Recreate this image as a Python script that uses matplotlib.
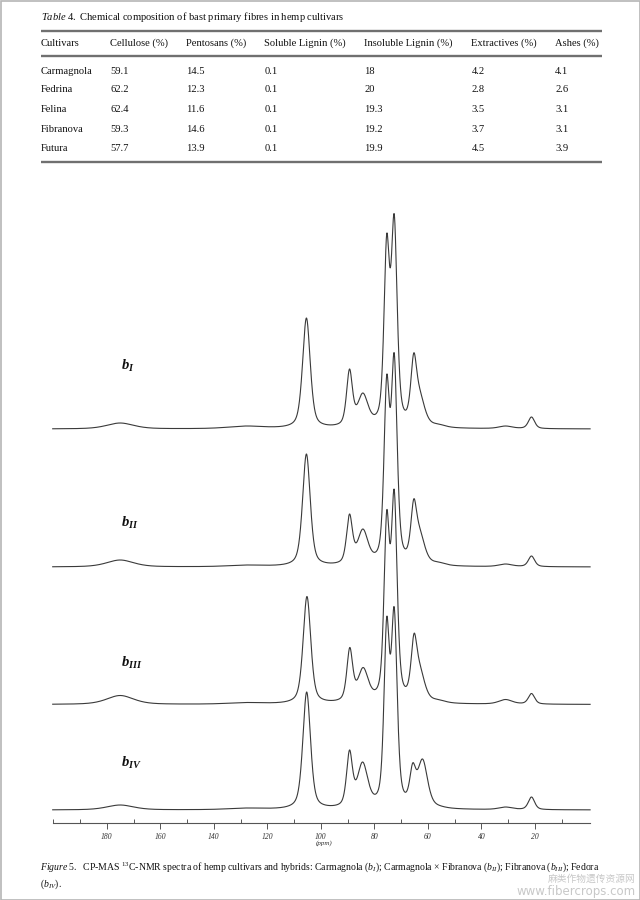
import numpy as np
import matplotlib
matplotlib.use("Agg")
import matplotlib.pyplot as plt
from matplotlib.patches import Rectangle

plt.rcParams["font.family"] = ["Liberation Serif", "DejaVu Serif"]
plt.rcParams["mathtext.fontset"] = "custom"
plt.rcParams["mathtext.rm"] = "Liberation Serif"
plt.rcParams["mathtext.it"] = "Liberation Serif:italic"
plt.rcParams["mathtext.bf"] = "Liberation Serif:bold"
plt.rcParams["mathtext.bfit"] = "Liberation Serif:italic:bold"

# ---- Table 4 data ----
headers = ["Cultivars", "Cellulose (%)", "Pentosans (%)", "Soluble Lignin (%)",
           "Insoluble Lignin (%)", "Extractives (%)", "Ashes (%)"]
cultivars = ["Carmagnola", "Fedrina", "Felina", "Fibranova", "Futura"]
cellulose = [59.1, 62.2, 62.4, 59.3, 57.7]
pentosans = [14.5, 12.3, 11.6, 14.6, 13.9]
soluble_lignin = [0.1, 0.1, 0.1, 0.1, 0.1]
insoluble_lignin = [18, 20, 19.3, 19.2, 19.9]
extractives = [4.2, 2.8, 3.5, 3.7, 4.5]
ashes = [4.1, 2.6, 3.1, 3.1, 3.9]

# ---- CP-MAS 13C-NMR resonances (ppm, intensity a.u.) ----
spectrum_labels = ["I", "II", "III", "IV"]
ppm_b1 = [175, 128, 105.4, 89.3, 84.3, 75.4, 72.6, 65.3, 63.0, 56.0, 31.0, 21.3]
int_b1 = [6, 3, 111, 60, 36, 195, 215, 76, 40, 5, 3, 12]
ppm_b2 = [175, 128, 105.4, 89.3, 84.3, 75.4, 72.6, 65.3, 63.0, 56.0, 31.0, 21.3]
int_b2 = [7, 2, 113, 53, 38, 192, 214, 68, 39, 5, 3, 11]
ppm_b3 = [175, 128, 105.2, 89.2, 84.2, 75.4, 72.6, 65.2, 63.0, 56.0, 31.0, 21.3]
int_b3 = [9, 2, 108, 57, 37, 194, 215, 71, 41, 5, 5, 11]
ppm_b4 = [175, 128, 105.3, 89.3, 84.4, 75.4, 72.6, 65.7, 62.0, 56.0, 31.0, 21.3]
int_b4 = [5, 2, 118, 60, 48, 193, 203, 47, 51, 5, 3, 13]
# half widths at half maximum (ppm) for each resonance
hwhm = [6.0, 8.0, 1.7, 1.3, 2.3, 1.2, 1.3, 1.3, 2.2, 3.0, 3.0, 1.4]

spectra_ppm = [ppm_b1, ppm_b2, ppm_b3, ppm_b4]
spectra_int = [int_b1, int_b2, int_b3, int_b4]

ETA = 0.5  # Lorentzian fraction of the pseudo-Voigt line shape


def line_shape(x, x0, w):
    lor = 1.0 / (1.0 + ((x - x0) / w) ** 2)
    gau = np.exp(-np.log(2) * ((x - x0) / w) ** 2)
    return ETA * lor + (1 - ETA) * gau


def build_spectrum(x, centres, heights, widths):
    centres = np.asarray(centres, float)
    heights = np.asarray(heights, float)
    widths = np.asarray(widths, float)
    # amplitudes so that the summed trace reaches each stated peak height
    m = np.array([[line_shape(c_i, c_j, w_j) for c_j, w_j in zip(centres, widths)]
                  for c_i in centres])
    amps = np.linalg.solve(m, heights)
    y = np.zeros_like(x)
    for a, c, w in zip(amps, centres, widths):
        y += a * line_shape(x, c, w)
    return y


fig = plt.figure(figsize=(6.4, 9), dpi=100)
W, H = 640.0, 900.0

page = fig.add_axes([0, 0, 1, 1])
page.set_xlim(0, W)
page.set_ylim(H, 0)
page.axis("off")
page.add_patch(Rectangle((0.5, 0.5), W - 1, H - 1, fill=False, ec="#b5b5b5", lw=1.2))

ink = "#111111"
fs_tab = 7.6

# ---- Table ----
page.text(40.7, 16.5, r"$\mathit{Table\ 4.}$ Chemical composition of bast primary fibres in hemp cultivars",
          fontsize=fs_tab, color=ink, va="center", ha="left")
for yy in (31, 56, 162.3):
    page.plot([40.8, 602], [yy, yy], color="#707070", lw=1.7, solid_capstyle="butt")

col_x = [40.8, 110.2, 185.7, 264.5, 364.5, 471.4, 555.1]
for x, h in zip(col_x, headers):
    page.text(x, 43.5, h, fontsize=fs_tab, color=ink, va="center", ha="left")

row_y = [71, 90, 110, 129.3, 148.3]
columns = [cellulose, pentosans, soluble_lignin, insoluble_lignin, extractives, ashes]
for r, (name, yy) in enumerate(zip(cultivars, row_y)):
    page.text(col_x[0], yy, name, fontsize=fs_tab, color=ink, va="center", ha="left")
    for c, vals in enumerate(columns):
        page.text(col_x[c + 1], yy, f"{vals[r]:g}", fontsize=fs_tab, color=ink,
                  va="center", ha="left")

# ---- Stacked spectra ----
x_left, x_right = 52.7, 590.1
y_axis, y_top = 823.3, 200.0
ax = fig.add_axes([x_left / W, (H - y_axis) / H, (x_right - x_left) / W, (y_axis - y_top) / H])
ax.set_xlim(200.2, -0.6)
ax.set_ylim(0, y_axis - y_top)
ax.set_facecolor("none")

baselines = [y_axis - 429.0, y_axis - 567.0, y_axis - 704.5, y_axis - 810.0]
label_y = [366, 523, 663, 763]

ppm = np.linspace(200.2, -0.6, 6000)
for cen, hts, base, lab, ly in zip(spectra_ppm, spectra_int, baselines, spectrum_labels, label_y):
    trace = build_spectrum(ppm, cen, hts, hwhm)
    ax.plot(ppm, base + trace, color="#3a3a3a", lw=0.8, clip_on=False)
    page.text(121, ly, rf"$\mathbfit{{b}}_{{\mathbfit{{{lab}}}}}$", fontsize=10.5,
              color=ink, va="center", ha="left")

for s in ("top", "left", "right"):
    ax.spines[s].set_visible(False)
ax.spines["bottom"].set_color("#555555")
ax.spines["bottom"].set_linewidth(0.8)
ax.set_yticks([])
ax.set_xticks(np.arange(180, 0, -20))
ax.set_xticks([200, 190, 170, 150, 130, 110, 90, 70, 50, 30, 10], minor=True)
ax.tick_params(axis="x", which="major", direction="out", length=4, width=0.7,
               color="#555555", pad=3, labelsize=5.5, labelcolor="#333333")
ax.tick_params(axis="x", which="minor", direction="in", length=3, width=0.7, color="#555555")
for t in ax.get_xticklabels():
    t.set_fontstyle("italic")
page.text(324, 843, "(ppm)", fontsize=5, color="#333333", ha="center", va="center",
          style="italic")

# ---- Caption ----
page.text(40.5, 867,
          r"$\mathit{Figure\ 5.}$  CP-MAS $^{13}$C-NMR spectra of hemp cultivars and hybrids: "
          r"Carmagnola ($\mathit{b}_{\mathit{I}}$); Carmagnola × Fibranova ($\mathit{b}_{\mathit{II}}$); "
          r"Fibranova ($\mathit{b}_{\mathit{III}}$); Fedora",
          fontsize=7.0, color=ink, va="center", ha="left")
page.text(40.5, 884, r"($\mathit{b}_{\mathit{IV}}$).", fontsize=7.0, color=ink,
          va="center", ha="left")

# site marks
page.text(636, 879, "麻类作物遗传资源网", fontsize=7, color="#c8c8c8", ha="right", va="center",
          family=["Noto Sans CJK SC", "DejaVu Sans"])
page.text(636, 891.5, "www.fibercrops.com", fontsize=8.5, color="#c8c8c8", ha="right", va="center",
          family=["DejaVu Sans"])

fig.savefig("out.png", dpi=100, facecolor="white")
